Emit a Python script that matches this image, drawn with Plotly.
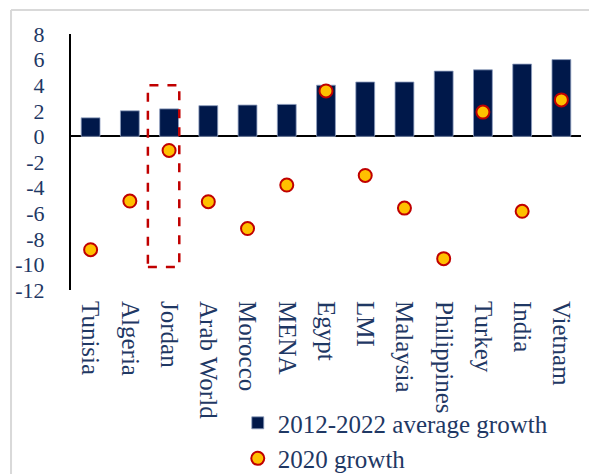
import plotly.graph_objects as go

categories = ["Tunisia", "Algeria", "Jordan", "Arab World", "Morocco", "MENA", "Egypt",
              "LMI", "Malaysia", "Philippines", "Turkey", "India", "Vietnam"]
avg_growth = [1.45, 2.0, 2.15, 2.4, 2.45, 2.5, 4.0, 4.25, 4.25, 5.1, 5.2, 5.65, 6.0]
growth_2020 = [-8.85, -5.05, -1.1, -5.1, -7.2, -3.8, 3.55, -3.05, -5.6, -9.55, 1.9, -5.85, 2.85]
y_ticks = [8, 6, 4, 2, 0, -2, -4, -6, -8, -10, -12]
y_tick_labels = ["8", "6", "4", "2", "0", "-2", "-4", "-6", "-8", "-10", "-12"]

navy_text = "#1F3864"
font_family = "Liberation Serif"

x_idx = list(range(len(categories)))

fig = go.Figure()
fig.add_trace(go.Bar(
    x=x_idx, y=avg_growth, name="2012-2022 average growth",
    marker=dict(color="#00184A", line=dict(color="#8FA0C0", width=0.8)),
    width=0.48,
))
fig.add_trace(go.Scatter(
    x=x_idx, y=growth_2020, name="2020 growth", mode="markers",
    marker=dict(color="#FFC000", size=13, line=dict(color="#C00000", width=2)),
))

# dashed highlight box around Jordan
j = categories.index("Jordan")
fig.add_shape(type="rect", xref="x", yref="y",
              x0=j - 0.54, x1=j + 0.26, y0=-10.2, y1=4.0,
              line=dict(color="#C00000", width=2.5, dash="dash"))

# light frame lines
fig.add_shape(type="line", xref="paper", yref="paper", x0=-0.1176, x1=-0.1176, y0=1.094, y1=-0.75,
              line=dict(color="#D9D9D9", width=2))
fig.add_shape(type="line", xref="paper", yref="paper", x0=-0.1176, x1=1.04, y0=1.094, y1=1.094,
              line=dict(color="#D9D9D9", width=2))

# page body has an 8px default margin, so the figure is sized to fit the window
fig.update_layout(
    width=589, height=466,
    margin=dict(l=63, r=16, t=26, b=184, autoexpand=False),
    paper_bgcolor="white", plot_bgcolor="white",
    font=dict(family=font_family, color=navy_text, size=23),
    bargap=0.5,
    showlegend=True,
    legend=dict(x=0.327, y=-0.43, xanchor="left", yanchor="top",
                font=dict(size=25, color=navy_text, family=font_family),
                bgcolor="rgba(0,0,0,0)", tracegroupgap=0, itemwidth=30),
)
fig.update_xaxes(
    range=[-0.5, len(categories) - 0.5], automargin=False,
    tickmode="array", tickvals=x_idx, ticktext=categories,
    tickangle=90, showline=False, showgrid=False, zeroline=False,
    ticks="", tickfont=dict(size=25, color=navy_text, family=font_family),
    ticklabelstandoff=10,
)
fig.update_yaxes(
    range=[-12, 8], tickmode="array", tickvals=y_ticks, ticktext=y_tick_labels,
    automargin=False,
    showline=True, linecolor="black", linewidth=2,
    showgrid=False, zeroline=True, zerolinecolor="black", zerolinewidth=2,
    ticks="", tickfont=dict(size=22, color=navy_text, family=font_family),
    ticklabelstandoff=20,
)

fig.write_html("out.html")
